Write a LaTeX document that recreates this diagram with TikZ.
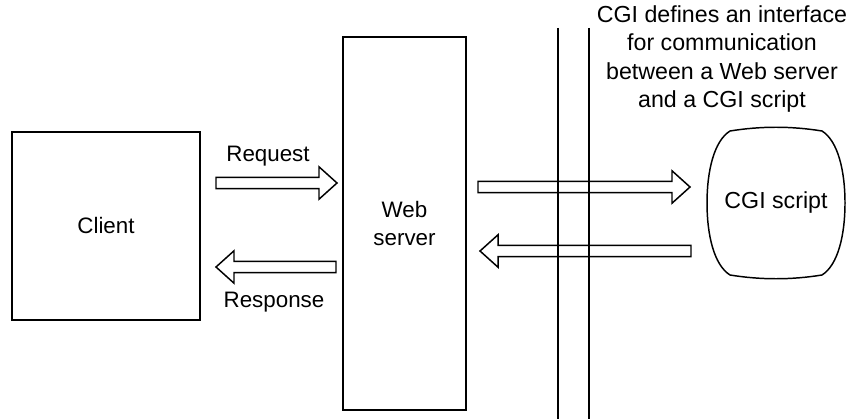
\documentclass[tikz,border=0pt]{standalone}
\usepackage{fontspec}
\setmainfont{Liberation Sans}
\usetikzlibrary{calc}

\newlength\shaftw \setlength\shaftw{0.092cm}
\newlength\headl  \setlength\headl{0.30cm}
\newlength\headw  \setlength\headw{0.27cm}

\tikzset{
  box/.style={draw, line width=0.7pt, align=center},
  lbl/.style={font=\fontsize{10.6}{13.5}\selectfont, align=center},
  blockarrow/.style={line width=0.7pt, line join=miter, to path={
    ($(\tikztostart)!\shaftw!90:(\tikztotarget)$)
    -- ($($(\tikztotarget)!\headl!(\tikztostart)$)!\shaftw!-90:(\tikztostart)$)
    -- ($($(\tikztotarget)!\headl!(\tikztostart)$)!\headw!-90:(\tikztostart)$)
    -- (\tikztotarget)
    -- ($($(\tikztotarget)!\headl!(\tikztostart)$)!\headw!90:(\tikztostart)$)
    -- ($($(\tikztotarget)!\headl!(\tikztostart)$)!\shaftw!90:(\tikztostart)$)
    -- ($(\tikztostart)!\shaftw!-90:(\tikztotarget)$)
    -- cycle}}
}

\begin{document}
\begin{tikzpicture}[x=0.016667cm, y=-0.016667cm, every node/.style={lbl}]
\useasboundingbox (0,0) rectangle (850,419);

% Boxes
\node (client) [box, minimum width=3.13cm, minimum height=3.13cm] at (106,226) {Client};
\node (web) [box, minimum width=2.05cm, minimum height=6.22cm] at (404.5,223.5) {Web\\server};
\node (cgi) [font=\fontsize{11}{13.5}\selectfont, minimum width=2.3cm, minimum height=2.43cm] at (776,203) {CGI script};
\draw[line width=0.7pt, shift={(cgi.center)}]
  (-46,-72) .. controls (-15,-77) and (15,-77) .. (46,-72)
  .. controls (62,-62) and (69,-32) .. (69,0)
  .. controls (69,32) and (62,62) .. (46,72)
  .. controls (15,77) and (-15,77) .. (-46,72)
  .. controls (-62,62) and (-69,32) .. (-69,0)
  .. controls (-69,-32) and (-62,-62) .. (-46,-72) -- cycle;

% Interface lines
\draw[line width=0.7pt] (558,28) -- (558,419);
\draw[line width=0.7pt] (589,28) -- (589,419);
\node (note) [font=\fontsize{11}{13.4}\selectfont] at (722,59)
  {CGI defines an interface\\for communication\\between a Web server\\and a CGI script};

% Arrow ends
\coordinate (reqS) at (216,183);
\coordinate (reqE) at (337,183);
\coordinate (resS) at (336,267);
\coordinate (resE) at (216,267);
\coordinate (toS) at (478,187);
\coordinate (toE) at (690,187);
\coordinate (backS) at (691,251);
\coordinate (backE) at (480,251);

% Arrows
\draw[blockarrow] (reqS) to (reqE);
\draw[blockarrow] (resS) to (resE);
\draw[blockarrow] (toS) to (toE);
\draw[blockarrow] (backS) to (backE);

\node (req) [anchor=base] at (268,162) {Request};
\node (res) [anchor=base] at (274,307) {Response};
\end{tikzpicture}
\end{document}
